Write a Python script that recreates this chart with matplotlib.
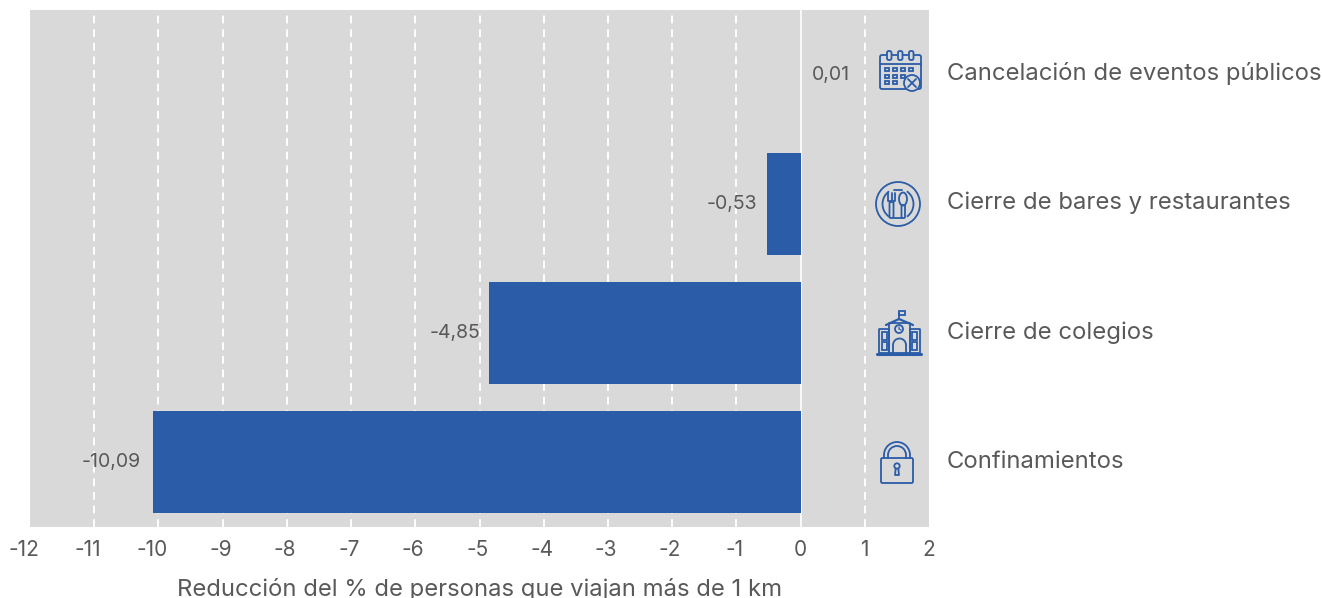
import matplotlib
matplotlib.use('Agg')
import matplotlib.pyplot as plt
from matplotlib.patches import Circle, Rectangle, FancyBboxPatch, Arc, Ellipse
from matplotlib.transforms import ScaledTranslation

categories = ['Confinamientos', 'Cierre de colegios', 'Cierre de bares y restaurantes', 'Cancelación de eventos públicos']
values = [-10.09, -4.85, -0.53, 0.01]
value_labels = ['-10,09', '-4,85', '-0,53', '0,01']
x_ticks = list(range(-12, 3))

BLUE = '#2b5ca8'
GREY = '#595959'
BG = '#d9d9d9'

plt.rcParams['font.family'] = ['Inter', 'DejaVu Sans']

fig = plt.figure(figsize=(13.22, 5.98), dpi=100)
ax = fig.add_axes([30/1322, 1-527/598, 899/1322, 517/598])
ax.set_facecolor(BG)
ax.set_xlim(-12, 2)
ax.set_ylim(-0.5, 3.5)

ax.barh(range(len(values)), values, height=0.79, color=BLUE, zorder=2)
for t in x_ticks[1:-1]:
    if t != 0:
        ax.axvline(t, color='white', linestyle=(0, (4, 3)), linewidth=1.4, zorder=1)
ax.axvline(0, color='white', linewidth=1.2, zorder=1)

for i, v in enumerate(values):
    off = -9 if v < 0 else 11
    if v < -10:
        off = -12
    ax.annotate(value_labels[i], (v, i), xytext=(off*0.72, 0), textcoords='offset points',
                ha='right' if v < 0 else 'left', va='center', fontsize=14, color=GREY)
    ax.annotate(categories[i], (2, i), xytext=(13, 0.5), textcoords='offset points',
                ha='left', va='center', fontsize=17.2, color=GREY, annotation_clip=False)

ax.set_xticks(x_ticks)
ax.set_xticklabels([str(t) for t in x_ticks], fontsize=15, color=GREY)
ax.set_yticks([])
ax.tick_params(axis='x', length=0, pad=9)
for s in ax.spines.values():
    s.set_visible(False)
ax.set_xlabel('Reducción del % de personas que viajan más de 1 km', fontsize=17.15, color=GREY, labelpad=13)

# negative tick labels sit a little left of their ticks in the original
for t, lab in zip(x_ticks, ax.get_xticklabels()):
    shift = 6 if t <= -10 else (2 if t < 0 else 0)
    lab.set_transform(lab.get_transform() + ScaledTranslation(-shift/100, 0, fig.dpi_scale_trans))

# icons, drawn in pixel coordinates on a see-through overlay
ov = fig.add_axes([0, 0, 1, 1])
ov.set_xlim(0, 1322)
ov.set_ylim(598, 0)
ov.axis('off')
ov.patch.set_alpha(0)
lw = 1.3
kw = dict(fill=False, edgecolor=BLUE, linewidth=lw)


def line(xs, ys, w=lw):
    ov.plot(xs, ys, color=BLUE, linewidth=w, solid_capstyle='round')


def rrect(x, y, w, h, r=2, **k):
    d = dict(kw)
    d.update(k)
    ov.add_patch(FancyBboxPatch((x + r, y + r), w - 2*r, h - 2*r, boxstyle='round,pad=%s' % r, **d))


# calendar
rrect(880, 55, 41, 34)
line([880, 921], [64, 64])
for x in [887, 898, 909]:
    rrect(x, 51, 4.5, 9, r=1.8, facecolor=BG, fill=True)
for x, y in [(885, 68), (893, 68), (901, 68), (909, 68),
             (885, 75), (893, 75), (901, 75),
             (885, 81), (893, 81)]:
    ov.add_patch(Rectangle((x, y), 4, 3, **kw))
ov.add_patch(Circle((912, 83), 8, facecolor=BG, edgecolor=BLUE, linewidth=lw))
line([908, 916], [79, 87])
line([908, 916], [87, 79])

# plate
ov.add_patch(Circle((898, 204), 22, **kw))
ov.add_patch(Arc((898, 204), 31, 31, theta1=125, theta2=235, edgecolor=BLUE, linewidth=lw))
ov.add_patch(Arc((898, 204), 31, 31, theta1=-55, theta2=55, edgecolor=BLUE, linewidth=lw))
line([894, 902], [189.5, 189.5])
line([894, 902], [218, 218])
line([888, 888, 895, 895], [193, 201, 201, 193])
line([891.5, 891.5], [193, 200])
rrect(889.5, 202, 4, 16, r=1)
ov.add_patch(Ellipse((903, 199), 8, 13, **kw))
rrect(901.5, 205, 3.5, 13, r=1)

# school
line([877, 921], [354, 354], w=2.2)
rrect(889, 323, 21, 30, r=0.5)
rrect(879, 329, 10, 24, r=0.5)
rrect(910, 329, 10, 24, r=0.5)
line([886, 899, 913], [325, 319, 325], w=1.6)
line([899, 899], [319, 312])
ov.add_patch(Rectangle((899, 311), 6, 4, **kw))
ov.add_patch(Circle((899, 329), 4, **kw))
line([899, 899, 901], [327, 329, 330], w=0.9)
line([893, 893], [353, 345])
line([906, 906], [353, 345])
ov.add_patch(Arc((899.5, 345), 13, 13, theta1=180, theta2=360, edgecolor=BLUE, linewidth=lw))
for x in [882, 912]:
    ov.add_patch(Rectangle((x, 332), 5, 8, **kw))
    ov.add_patch(Rectangle((x, 342), 5, 8, **kw))

# lock
rrect(881, 458, 32, 25, r=1.5)
ov.add_patch(Arc((897, 455), 26, 26, theta1=180, theta2=360, edgecolor=BLUE, linewidth=lw))
ov.add_patch(Arc((897, 455), 18, 18, theta1=180, theta2=360, edgecolor=BLUE, linewidth=lw))
line([884, 884], [455, 458])
line([910, 910], [455, 458])
line([888, 888], [455, 458])
line([906, 906], [455, 458])
ov.add_patch(Circle((897, 466), 2.7, **kw))
line([895.7, 895, 899, 898.3], [468.5, 475, 475, 468.5])

fig.savefig('out.png', dpi=100)
